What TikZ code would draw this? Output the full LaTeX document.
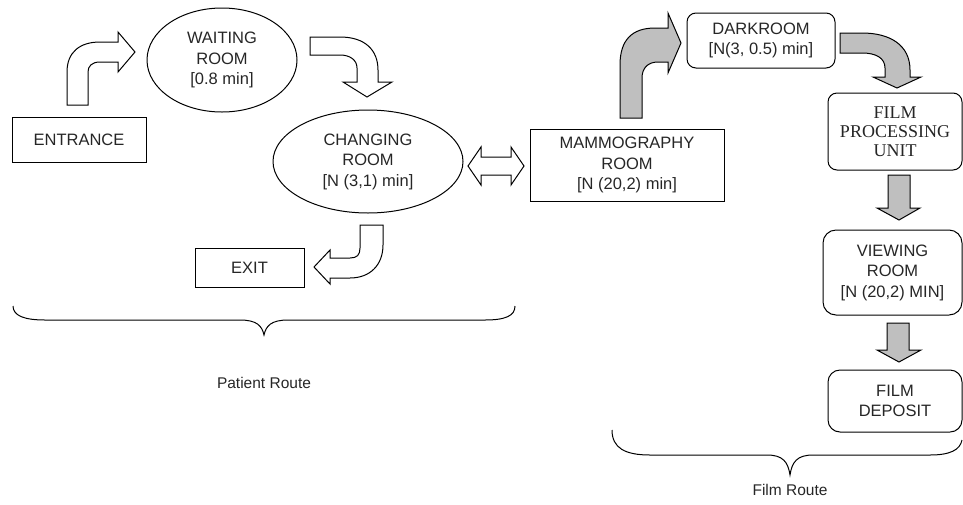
\documentclass[tikz,border=0pt]{standalone}
\usepackage{fontspec}
\setmainfont{Liberation Sans}
\newfontfamily\seriffont{Liberation Serif}
\usetikzlibrary{shapes.geometric}
\begin{document}
\begin{tikzpicture}[x=1pt,y=-1pt,
  txt/.style={font=\fontsize{16.5}{20.5}\selectfont, align=center, text=black!85},
  box/.style={txt, draw, line width=1pt, inner sep=0pt},
  rbox/.style={box, rounded corners=9pt},
  oval/.style={txt, draw, ellipse, line width=1pt, inner sep=0pt},
  warrow/.style={draw, fill=white, line width=1pt, line join=miter},
  garrow/.style={draw, fill=gray!50, line width=1pt, line join=miter},
  brace/.style={draw, line width=1pt},
  lbl/.style={font=\fontsize{15.5}{18}\selectfont, text=black!85}]
\useasboundingbox (0,0) rectangle (963,504);

% nodes
\node[box, minimum width=134pt, minimum height=45pt] (entrance) at (79,139.5) {ENTRANCE};
\node[oval, minimum width=150pt, minimum height=104pt] (waiting) at (222,60) {WAITING\\ROOM\\{}[0.8 min]};
\node[oval, minimum width=190pt, minimum height=103pt] (changing) at (368,161.5) {CHANGING\\ROOM\\{}[N (3,1) min]};
\node[box, minimum width=109pt, minimum height=39pt] (exit) at (249.5,267.5) {EXIT};
\node[box, minimum width=194pt, minimum height=72pt] (mammo) at (627,165) {MAMMOGRAPHY\\ROOM\\{}[N (20,2) min]};
\node[rbox, minimum width=148pt, minimum height=55pt] (dark) at (761,40.5) {DARKROOM\\{}[N(3, 0.5) min]};
\node[rbox, minimum width=134pt, minimum height=77pt, font=\seriffont\fontsize{18}{19}\selectfont] (proc) at (895,131.5) {FILM\\PROCESSING\\UNIT};
\node[rbox, minimum width=139pt, minimum height=85pt, rounded corners=13pt] (view) at (892.5,272.5) {VIEWING\\ROOM\\{}[N (20,2) MIN]};
\node[rbox, minimum width=134pt, minimum height=62pt, rounded corners=12pt] (deposit) at (895,401) {FILM\\DEPOSIT};

\node[lbl] (proute) at (264,383) {Patient Route};
\node[lbl] (froute) at (790,490) {Film Route};

% white block arrows (patient route)
\path[warrow] (67,105) -- (67,72) .. controls (67,52) and (80,42) .. (100,42) -- (118,42) -- (118,32) -- (135,52) -- (118,72) -- (118,62) -- (100,62) .. controls (92,62) and (88,66) .. (88,72) -- (88,105) -- cycle;
\path[warrow] (310,37) -- (340,37) .. controls (365,37) and (378,50) .. (378,70) -- (378,82) -- (392,82) -- (367,97) -- (343,82) -- (357,82) -- (357,68) .. controls (357,60) and (350,55) .. (340,55) -- (310,55) -- cycle;
\path[warrow] (468,166) -- (481,147) -- (481,157) -- (511,157) -- (511,147) -- (524,166) -- (511,185) -- (511,175) -- (481,175) -- (481,185) -- cycle;
\path[warrow] (360,225) -- (383,225) -- (383,245) .. controls (383,265) and (370,278) .. (350,278) -- (330,278) -- (330,284) -- (314,267) -- (330,250) -- (330,258) -- (350,258) .. controls (357,258) and (360,255) .. (360,248) -- cycle;

% gray block arrows (film route)
\path[garrow] (620,118) -- (620,65) .. controls (620,40) and (632,28) .. (655,28) -- (668,28) -- (668,13) -- (681,43) -- (668,73) -- (668,62) -- (658,62) .. controls (648,62) and (642,68) .. (642,78) -- (642,118) -- cycle;
\path[garrow] (840,33) -- (862,33) .. controls (890,33) and (910,45) .. (910,70) -- (910,77) -- (921,77) -- (897,88) -- (873,77) -- (885,77) -- (885,68) .. controls (885,58) and (876,53) .. (862,53) -- (840,53) -- cycle;
\path[garrow] (888,175) -- (910,175) -- (910,208) -- (920,208) -- (899,220) -- (877,208) -- (888,208) -- cycle;
\path[garrow] (887,323) -- (909,323) -- (909,350) -- (921,350) -- (899,362) -- (877,350) -- (887,350) -- cycle;

% braces
\path[brace] (13,306) .. controls (13,316) and (25,320) .. (45,320) -- (240,320) .. controls (257,320) and (262,326) .. (264,335) .. controls (266,326) and (271,320) .. (288,320) -- (485,320) .. controls (505,320) and (515,316) .. (515,306);
\path[brace] (612,430) .. controls (612,448) and (625,455) .. (650,455) -- (767,455) .. controls (783,455) and (788,462) .. (790,475) .. controls (792,462) and (797,455) .. (813,455) -- (930,455) .. controls (950,455) and (960,450) .. (962,440);
\end{tikzpicture}
\end{document}
